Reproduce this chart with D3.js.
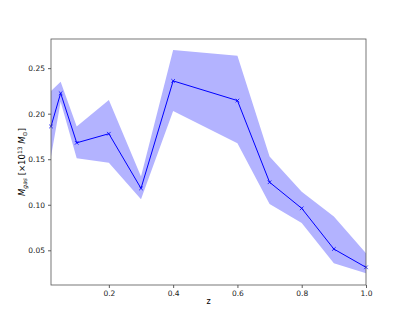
<!DOCTYPE html>
<html>
<head>
<meta charset="utf-8">
<script src="https://d3js.org/d3.v7.min.js"></script>
<style>
  body { margin:0; background:#fff; }
  text { font-family: "DejaVu Sans", sans-serif; }
</style>
</head>
<body>
<div id="chart"></div>
<script>
var zVals   = [0.02, 0.05, 0.1, 0.2, 0.3, 0.4, 0.6, 0.7, 0.8, 0.9, 1.0];
var mgas    = [0.186, 0.2225, 0.168, 0.178, 0.118, 0.236, 0.2144, 0.1247, 0.0961, 0.0514, 0.0313];
var mgasHi  = [0.225, 0.235, 0.186, 0.215, 0.131, 0.270, 0.2635, 0.153, 0.1144, 0.087, 0.0467];
var mgasLo  = [0.153, 0.213, 0.151, 0.146, 0.106, 0.203, 0.1676, 0.1009, 0.080, 0.0357, 0.0247];
var xTicks  = [0.2, 0.4, 0.6, 0.8, 1.0];
var yTicks  = [0.05, 0.10, 0.15, 0.20, 0.25];

var width = 407, height = 326;
var margin = {left: 51, top: 39, right: 41, bottom: 41};

var svg = d3.select("#chart").append("svg")
    .attr("width", width).attr("height", height);

var x = d3.scaleLinear().domain([0.02, 1.0]).range([margin.left, width - margin.right]);
var y = d3.scaleLinear().domain([0.0119, 0.282]).range([height - margin.bottom, margin.top]);

var data = zVals.map(function(z, i) {
  return {z: z, m: mgas[i], hi: mgasHi[i], lo: mgasLo[i]};
});

// band
svg.append("path")
    .datum(data)
    .attr("fill", "#b3b3ff")
    .attr("d", d3.area()
        .x(function(d) { return x(d.z); })
        .y0(function(d) { return y(d.lo); })
        .y1(function(d) { return y(d.hi); }));

// line
svg.append("path")
    .datum(data)
    .attr("fill", "none")
    .attr("stroke", "#0000ff")
    .attr("stroke-width", 1)
    .attr("d", d3.line()
        .x(function(d) { return x(d.z); })
        .y(function(d) { return y(d.m); }));

// x markers
var s = 1.8;
svg.append("g").selectAll("path")
    .data(data).enter().append("path")
    .attr("stroke", "#0000ff")
    .attr("stroke-width", 0.8)
    .attr("fill", "none")
    .attr("d", function(d) {
      var cx = x(d.z), cy = y(d.m);
      return "M" + (cx - s) + "," + (cy - s) + "L" + (cx + s) + "," + (cy + s) +
             "M" + (cx - s) + "," + (cy + s) + "L" + (cx + s) + "," + (cy - s);
    });

// axes
var xAxis = svg.append("g")
    .attr("transform", "translate(0," + (height - margin.bottom) + ")")
    .call(d3.axisBottom(x).tickValues(xTicks).tickFormat(d3.format(".1f")).tickSize(3).tickPadding(3));
var yAxis = svg.append("g")
    .attr("transform", "translate(" + margin.left + ",0)")
    .call(d3.axisLeft(y).tickValues(yTicks).tickFormat(d3.format(".2f")).tickSize(3).tickPadding(3));

[xAxis, yAxis].forEach(function(a) {
  a.select(".domain").remove();
  a.selectAll("line").attr("stroke", "#333").attr("stroke-width", 0.8);
  a.selectAll("text").attr("font-size", "7.5px").attr("fill", "#222")
      .style("font-family", "DejaVu Sans, sans-serif");
});

// frame
svg.append("rect")
    .attr("x", margin.left).attr("y", margin.top)
    .attr("width", width - margin.left - margin.right)
    .attr("height", height - margin.bottom - margin.top)
    .attr("fill", "none").attr("stroke", "#555").attr("stroke-width", 0.8);

// labels
svg.append("text")
    .attr("x", (margin.left + width - margin.right) / 2)
    .attr("y", 304)
    .attr("text-anchor", "middle")
    .attr("font-size", "8px")
    .text("z");

var yl = svg.append("text")
    .attr("transform", "translate(25," + ((margin.top + height - margin.bottom) / 2) + ") rotate(-90)")
    .attr("text-anchor", "middle")
    .attr("font-size", "8.5px");
yl.append("tspan").attr("font-style", "italic").text("M");
yl.append("tspan").attr("font-style", "italic").attr("font-size", "6px").attr("dy", 2).text("gas");
yl.append("tspan").attr("dy", -2).text(" [\u00d710");
yl.append("tspan").attr("font-size", "6px").attr("dy", -3.5).text("13");
yl.append("tspan").attr("dy", 3.5).attr("font-style", "italic").text(" M");
yl.append("tspan").attr("font-size", "6px").attr("dy", 2).text("\u2299");
yl.append("tspan").attr("dy", -2).text("]");
</script>
</body>
</html>
